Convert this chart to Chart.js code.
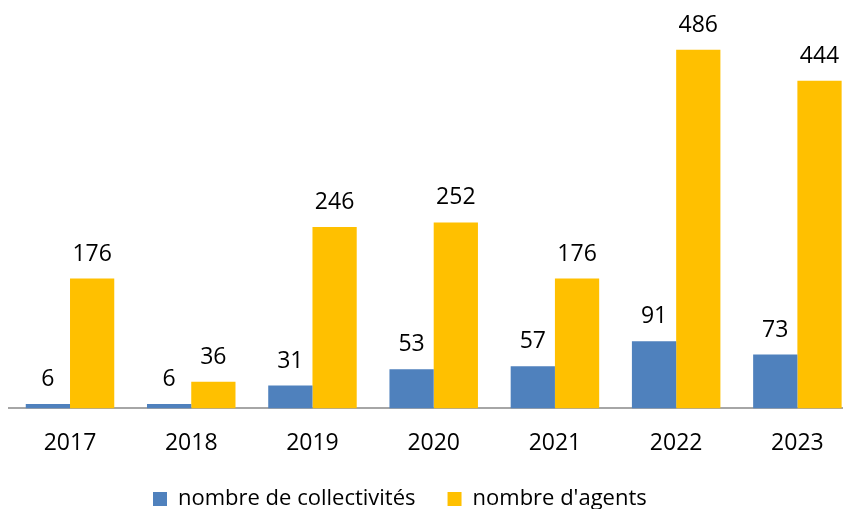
<!DOCTYPE html>
<html>
<head>
<meta charset="utf-8">
<script src="https://cdn.jsdelivr.net/npm/chart.js@4.4.0/dist/chart.umd.min.js"></script>
<style>
html, body { margin: 0; padding: 0; background: #fff; overflow: hidden; }
#wrap { width: 843px; height: 509px; overflow: hidden; }
</style>
</head>
<body>
<div id="wrap"><canvas id="chart" width="858" height="509"></canvas></div>
<script>
const years = ["2017", "2018", "2019", "2020", "2021", "2022", "2023"];
const collectivites = [6, 6, 31, 53, 57, 91, 73];
const agents = [176, 36, 246, 252, 176, 486, 444];

const FONT = '"Open Sans", sans-serif';

// numbers above each bar
const valueLabels = {
    id: "valueLabels",
    afterDatasetsDraw(chart) {
        const ctx = chart.ctx;
        ctx.save();
        ctx.font = "23px " + FONT;
        ctx.fillStyle = "#000";
        ctx.textAlign = "center";
        ctx.textBaseline = "alphabetic";
        chart.data.datasets.forEach((ds, i) => {
            chart.getDatasetMeta(i).data.forEach((bar, j) => {
                ctx.fillText(ds.data[j], bar.x, bar.y - 18);
            });
        });
        ctx.restore();
    }
};

// put the legend where the original has it (the canvas is wider than the window)
const legendPlace = {
    id: "legendPlace",
    afterLayout(chart) {
        const lg = chart.legend;
        lg.left = 153 - lg.options.labels.padding;
        lg.top = 456;
    }
};

new Chart(document.getElementById("chart"), {
    type: "bar",
    data: {
        labels: years,
        datasets: [
            {
                label: "nombre de collectivités",
                data: collectivites,
                backgroundColor: "#4f81bd"
            },
            {
                label: "nombre d'agents",
                data: agents,
                backgroundColor: "#ffc000"
            }
        ]
    },
    options: {
        responsive: false,
        animation: false,
        layout: { padding: { left: 9.4, right: 0, top: 10, bottom: -25 } },
        datasets: { bar: { categoryPercentage: 0.73, barPercentage: 1 } },
        scales: {
            x: {
                grid: { display: false },
                border: { display: true, color: "#a6a6a6", width: 2 },
                ticks: { color: "#000", font: { family: FONT, size: 23 }, padding: 13 }
            },
            y: { display: false, min: 0, max: 540 }
        },
        plugins: {
            legend: {
                position: "bottom",
                align: "start",
                labels: {
                    color: "#000",
                    font: { family: FONT, size: 22 },
                    boxWidth: 14,
                    boxHeight: 14,
                    padding: 32
                }
            },
            tooltip: { enabled: false }
        }
    },
    plugins: [valueLabels, legendPlace]
});
</script>
</body>
</html>
